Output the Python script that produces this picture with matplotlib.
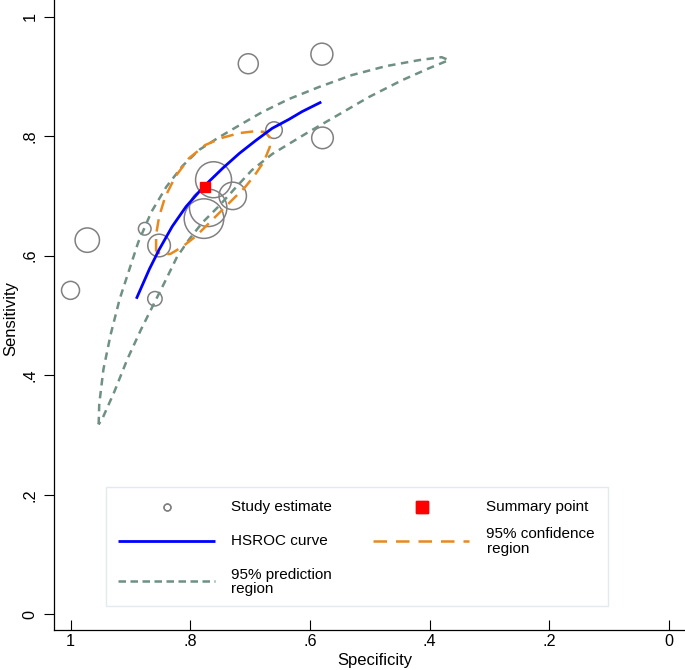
import matplotlib
matplotlib.use('Agg')
import matplotlib.pyplot as plt
from matplotlib.lines import Line2D
from matplotlib.patches import Rectangle

plt.rcParams['font.family'] = ['Liberation Sans', 'DejaVu Sans']

# ---------------- data ----------------
study_spec = [0.580, 0.703, 0.660, 0.579, 0.761, 0.729, 0.770, 0.777, 0.876, 0.852, 0.972, 1.000, 0.859]
study_sens = [0.937, 0.921, 0.810, 0.797, 0.727, 0.700, 0.680, 0.662, 0.645, 0.617, 0.626, 0.542, 0.528]
study_weight = [121, 100, 69, 117, 324, 188, 350, 392, 40, 128, 149, 81, 52]

summary_spec = [0.776]
summary_sens = [0.715]

hsroc_spec = [0.890, 0.868, 0.852, 0.830, 0.807, 0.777, 0.746, 0.718, 0.690, 0.663, 0.635, 0.613, 0.581]
hsroc_sens = [0.528, 0.578, 0.610, 0.649, 0.682, 0.716, 0.746, 0.771, 0.793, 0.813, 0.828, 0.841, 0.857]

conf_spec = [0.857, 0.857, 0.852, 0.842, 0.825, 0.802, 0.775, 0.747, 0.718, 0.693, 0.675, 0.667,
             0.667, 0.677, 0.692, 0.708, 0.735, 0.763, 0.790, 0.813, 0.833, 0.848, 0.857]
conf_sens = [0.607, 0.635, 0.665, 0.698, 0.732, 0.763, 0.785, 0.797, 0.805, 0.808, 0.807, 0.798,
             0.782, 0.757, 0.735, 0.715, 0.688, 0.660, 0.633, 0.615, 0.603, 0.602, 0.607]

pred_spec = [0.953, 0.952, 0.945, 0.933, 0.918, 0.903, 0.887, 0.865, 0.840, 0.813, 0.785, 0.752,
             0.718, 0.680, 0.635, 0.585, 0.530, 0.473, 0.418, 0.380, 0.368,
             0.402, 0.447, 0.502, 0.557, 0.602, 0.635, 0.663, 0.697, 0.723, 0.752, 0.780,
             0.802, 0.822, 0.843, 0.863, 0.882, 0.905, 0.927, 0.947, 0.953]
pred_sens = [0.318, 0.352, 0.410, 0.468, 0.527, 0.573, 0.622, 0.673, 0.715, 0.750, 0.777, 0.798,
             0.818, 0.840, 0.862, 0.882, 0.902, 0.917, 0.927, 0.932, 0.927,
             0.913, 0.893, 0.865, 0.833, 0.807, 0.787, 0.770, 0.743, 0.715, 0.683, 0.655,
             0.627, 0.598, 0.555, 0.515, 0.477, 0.427, 0.372, 0.327, 0.318]

tick_values = [1, 0.8, 0.6, 0.4, 0.2, 0]
tick_labels = ['1', '.8', '.6', '.4', '.2', '0']

legend_labels = ['Study estimate', 'Summary point', 'HSROC curve',
                 '95% confidence\nregion', '95% prediction\nregion']

# ---------------- styles ----------------
C_CIRCLE = '#808080'
C_BLUE = '#0000ff'
C_ORANGE = '#e8891e'
C_PRED = '#6f9082'
C_RED = '#ff0000'

W, H = 685, 670
fig = plt.figure(figsize=(W / 100, H / 100), dpi=100)
ax = fig.add_axes([54 / W, 40 / H, 631 / W, 630 / H])

ax.scatter(study_spec, study_sens, s=[2.07 * w for w in study_weight],
           facecolors='none', edgecolors=C_CIRCLE, linewidths=1.1, zorder=2)
ax.plot(pred_spec, pred_sens, color=C_PRED, lw=1.8, dashes=(3.0, 2.2), zorder=3)
ax.plot(conf_spec, conf_sens, color=C_ORANGE, lw=1.8, dashes=(5.0, 3.0), zorder=4)
ax.plot(hsroc_spec, hsroc_sens, color=C_BLUE, lw=2.0, zorder=5, solid_capstyle='butt',
        solid_joinstyle='round')
ax.plot(summary_spec, summary_sens, 's', color=C_RED, ms=7.8, zorder=6)

ax.set_xlim(1.0276, -0.0267)
ax.set_ylim(-0.026, 1.0276)
ax.set_xticks(tick_values, tick_labels)
ax.set_yticks(tick_values, tick_labels)
ax.tick_params(axis='x', direction='in', length=7.2, width=0.8, pad=3, labelsize=11.7)
ax.tick_params(axis='y', direction='out', length=7.2, width=0.8, pad=4.7, labelsize=11.7,
               labelrotation=90)
for lab in ax.get_yticklabels():
    lab.set_verticalalignment('center')
for side in ('top', 'right'):
    ax.spines[side].set_visible(False)
for side in ('left', 'bottom'):
    ax.spines[side].set_linewidth(0.9)

ax.set_xlabel('Specificity', fontsize=12)
ax.set_ylabel('Sensitivity', fontsize=12)
ax.xaxis.set_label_coords((375 - 54) / 631, (630 - 653) / 630)
ax.yaxis.set_label_coords((18 - 54) / 631, 0.495)

# ---------------- legend (figure pixel layout) ----------------
def fp(x, y):
    return (x / W, 1 - y / H)

box = Rectangle(fp(106.5, 605.5), 501.5 / W, 118.5 / H, transform=fig.transFigure,
                facecolor='white', edgecolor='#e2eaee', lw=1.0, zorder=10)
fig.add_artist(box)

def leg_line(x0, x1, y, **kw):
    (a, b), (c, d) = fp(x0, y), fp(x1, y)
    fig.add_artist(Line2D([a, c], [b, d], transform=fig.transFigure, zorder=11, **kw))

def leg_text(x, y, s):
    fig.text(*fp(x, y), s, fontsize=11, ha='left', va='center', linespacing=1.05, zorder=11)

leg_line(166.5, 166.5, 507.3, marker='o', ms=5, mfc='none', mec=C_CIRCLE, mew=1.0, ls='none')
leg_text(231, 507.3, legend_labels[0])
leg_line(422, 422, 507.3, marker='s', ms=8.4, color=C_RED, ls='none')
leg_text(486.5, 507.3, legend_labels[1])
leg_line(118, 214.7, 540.7, color=C_BLUE, lw=2.0, solid_capstyle='butt')
leg_text(231, 540.7, legend_labels[2])
leg_line(373, 469, 540.7, color=C_ORANGE, lw=1.8, dashes=(5.4, 3.6))
leg_text(486.5, 541.3, legend_labels[3])
leg_line(118, 214.7, 580.7, color=C_PRED, lw=1.8, dashes=(3.0, 1.8))
leg_text(231, 582, legend_labels[4])

fig.savefig('out.png', dpi=100)
